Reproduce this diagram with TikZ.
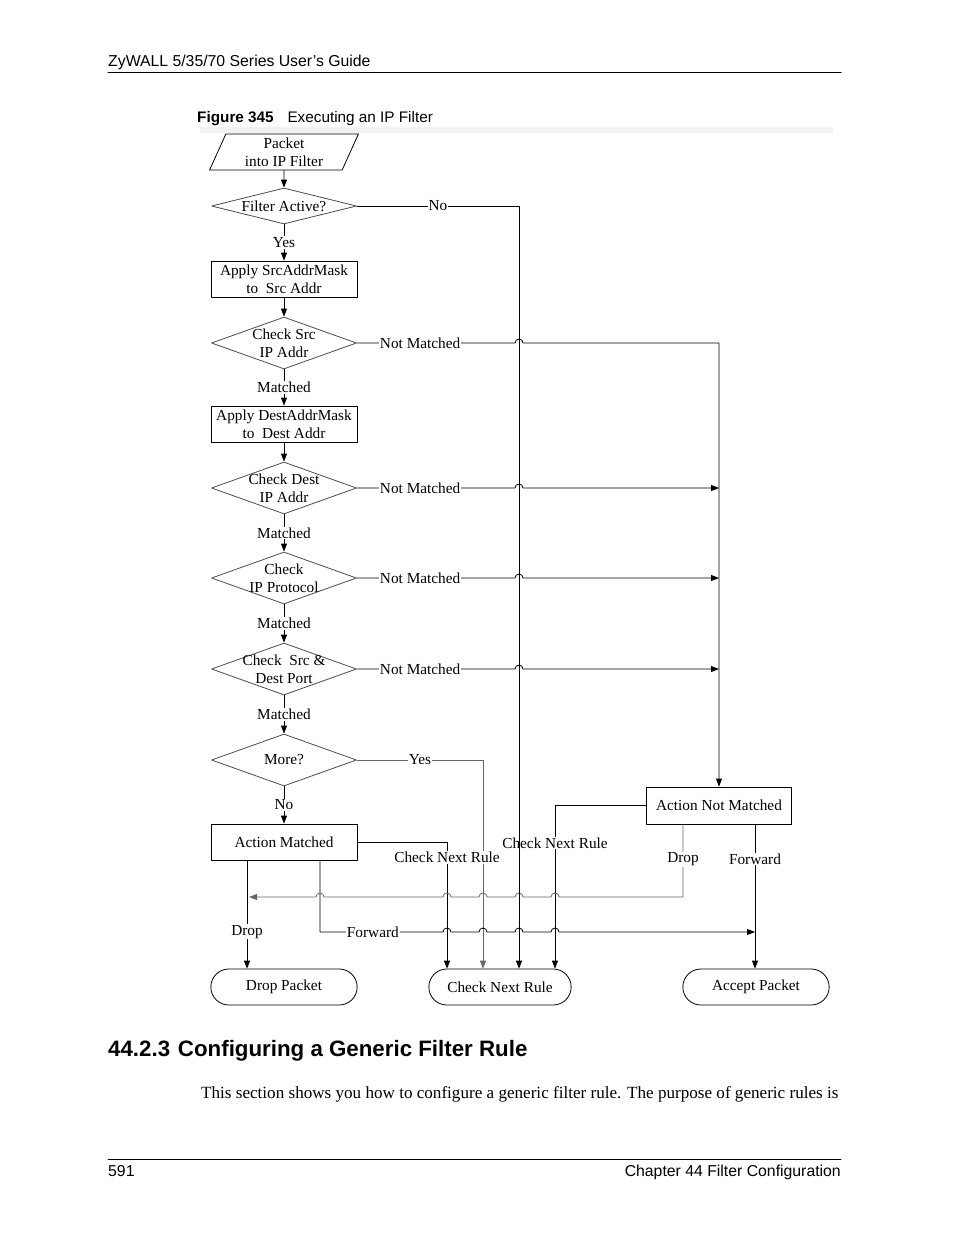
\documentclass[tikz,border=0pt]{standalone}
\usepackage{fontspec}
\setmainfont{Liberation Serif}
\newfontfamily\arial{Liberation Sans}
\usetikzlibrary{shapes.geometric,shapes.misc,arrows.meta,calc}
% line jumps over a vertical line
\newcommand{\hopR}[2]{-- ($(#1 -| #2)+(-4pt,0)$) arc[start angle=180,end angle=0,radius=4pt]}
\newcommand{\hopL}[2]{-- ($(#1 -| #2)+(4pt,0)$) arc[start angle=0,end angle=180,radius=4pt]}
\begin{document}
\begin{tikzpicture}[x=1pt,y=1pt,font=\fontsize{15.3}{18}\selectfont,line join=round,line cap=round,
	>={Triangle[length=8pt,width=6pt]},
	box/.style={draw,line width=0.8pt,minimum width=146pt,minimum height=36pt,align=center,inner sep=1pt},
	dia/.style={draw=black!70,line width=0.8pt,diamond,minimum width=145pt,minimum height=52pt,inner sep=0pt},
	term/.style={draw,line width=0.8pt,rounded rectangle,minimum width=153pt,minimum height=36pt},
	para/.style={draw,line width=0.8pt,trapezium,trapezium left angle=70,trapezium right angle=110,
		trapezium stretches=true,minimum width=149pt,minimum height=36pt,align=center,inner sep=1pt},
	inside/.style={align=center},
	lbl/.style={fill=white,inner sep=1pt},
	page/.style={inner sep=0pt,font=\arial\fontsize{15.8}{18}\selectfont},
	arr/.style={->,line width=0.8pt}]
	\useasboundingbox (0,0) rectangle (954,-1235);
	% page head
	\node[page,anchor=base west] (hdr) at (108,-66) {ZyWALL 5/35/70 Series User’s Guide};
	\draw[line width=1pt] (108,-72) -- (841,-72);
	\node[page,anchor=base west,font=\arial\fontsize{15.3}{18}\selectfont] (cap) at (197,-122) {\textbf{Figure 345}\hspace{0.9em}Executing an IP Filter};
	\fill[black!5] (200,-127) rectangle (833,-133);
	% trunk positions
	\path (519,-207) coordinate (tNo)
	(719,-343) coordinate (tNm)
	(483,-760) coordinate (tYes)
	(447,-842) coordinate (tAm)
	(555,-805) coordinate (tAnm)
	(683,-897) coordinate (dR)
	(249,-897) coordinate (dL)
	(247,-932) coordinate (aD)
	(320,-932) coordinate (aF)
	(755,-932) coordinate (fR)
	;
	% main column
	\node[para] (pkt) at (284,-152) {Packet\\into IP Filter};
	\node[dia,minimum height=36pt,label={[inside]center:Filter Active?}] (fa) at (284,-206) {};
	\node[box] (ssm) at (284,-279) {Apply SrcAddrMask\\to\ \ Src Addr};
	\node[dia,label={[inside]center:{Check Src\\IP Addr}}] (cs) at (284,-343) {};
	\node[box] (dsm) at (284,-424) {Apply DestAddrMask\\to\ \ Dest Addr};
	\node[dia,label={[inside]center:{Check Dest\\IP Addr}}] (cd) at (284,-488) {};
	\node[dia,label={[inside]center:{Check\\IP Protocol}}] (cp) at (284,-578) {};
	\node[dia,label={[inside]center:{Check\ \ Src \&\\Dest Port}}] (cpt) at (284,-669) {};
	\node[dia,label={[inside]center:More?}] (more) at (284,-760) {};
	\node[box] (am) at (284,-842) {Action Matched};
	\node[box,minimum width=145pt,minimum height=37pt] (anm) at (719,-805.5) {Action Not Matched};
	% end points
	\node[term] (drop) at (284,-987) {Drop Packet};
	\node[term,minimum width=149pt] (cnr) at (500,-987) {Check Next Rule};
	\node[term] (acc) at (756,-987) {Accept Packet};
	% down the column
	\draw[arr] (pkt) -- (fa);
	\draw[arr] (fa) -- node[lbl]{Yes} (ssm);
	\draw[arr] (ssm) -- (cs);
	\draw[arr] (cs) -- node[lbl]{Matched} (dsm);
	\draw[arr] (dsm) -- (cd);
	\draw[arr] (cd) -- node[lbl]{Matched} (cp);
	\draw[arr] (cp) -- node[lbl]{Matched} (cpt);
	\draw[arr] (cpt) -- node[lbl]{Matched} (more);
	\draw[arr] (more) -- node[lbl]{No} (am);
	% not matched
	\draw[arr] (cs.east) -- node[lbl,pos=.4]{Not Matched} ($(cs.east -| tNo)+(-4pt,0)$) arc[start angle=180,end angle=0,radius=4pt]
	-- (cs.east -| tNm) -- (anm.north);
	\foreach \d in {cd,cp,cpt}
	\draw[arr] (\d.east) -- node[lbl,pos=.4]{Not Matched} ($(\d.east -| tNo)+(-4pt,0)$) arc[start angle=180,end angle=0,radius=4pt]
	-- (\d.east -| tNm);
	% more rules
	\draw[arr,black!60] (more.east) -- node[lbl,text=black]{Yes} (more.east -| tYes) -- (tYes |- cnr.north);
	\draw[arr] (am.east) -- (am.east -| tAm) -- node[lbl,pos=.12]{Check Next Rule} (tAm |- cnr.north);
	\draw[arr] (anm.west) -- (anm.west -| tAnm) -- node[lbl,pos=.23]{Check Next Rule} (tAnm |- cnr.north);
	% actions
	\draw[arr] (am.south -| aD) -- node[lbl,pos=.66]{Drop} (aD |- drop.north);
	\draw[arr] (am.south -| aF) -- (aF) -- node[lbl,pos=.43]{Forward} ($(aF -| tAm)+(-4pt,0)$) arc[start angle=180,end angle=0,radius=4pt]
	\hopR{aF}{tYes} \hopR{aF}{tNo} \hopR{aF}{tAnm} -- (fR);
	\draw[arr,black!60] (anm.south -| dR) -- node[lbl,pos=.48,text=black]{Drop} (dR)
	\hopL{dR}{tAnm} \hopL{dR}{tNo} \hopL{dR}{tYes} \hopL{dR}{tAm} \hopL{dR}{aF} -- (dL);
	\draw[arr] (anm.south -| fR) -- node[lbl,pos=.24]{Forward} (fR |- acc.north);
	\draw[arr] (fa.east) -- node[lbl]{No} (fa.east -| tNo) -- (tNo |- cnr.north);
	% text below
	\node[page,anchor=base west,font=\arial\bfseries\fontsize{22.3}{26}\selectfont] (sec) at (108,-1056) {44.2.3\hspace{0.35em}Configuring a Generic Filter Rule};
	\node[page,anchor=base west,font=\fontsize{17.1}{20}\selectfont] (body) at (201,-1098) {This section shows you how to configure a generic filter rule. The purpose of generic rules is};
	\draw[line width=0.8pt] (108,-1159) -- (841,-1159);
	\node[page,anchor=base west] (pg) at (108,-1176) {591};
	\node[page,anchor=base east] (chap) at (841,-1176) {Chapter 44 Filter Configuration};
\end{tikzpicture}
\end{document}
